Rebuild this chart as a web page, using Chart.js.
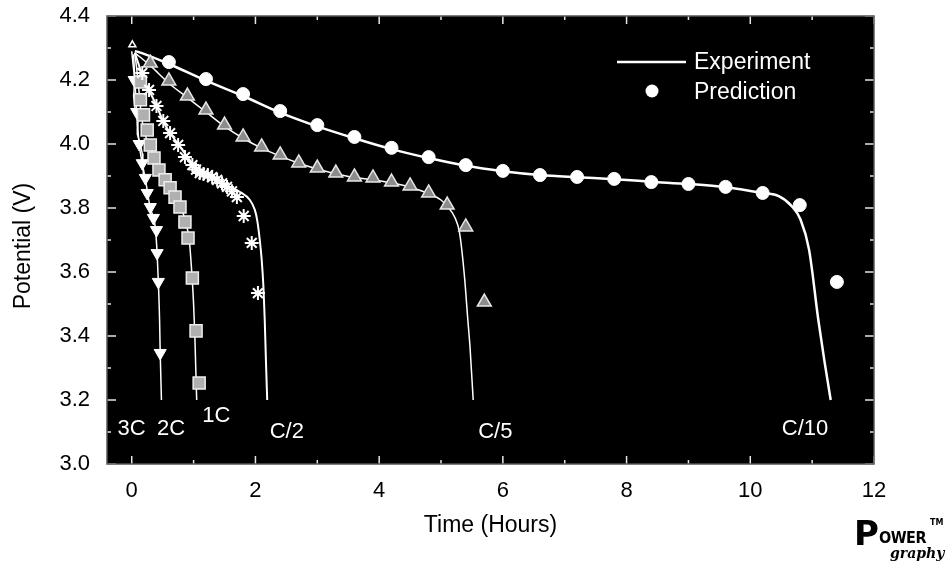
<!DOCTYPE html>
<html>
<head>
<meta charset="utf-8">
<script src="https://cdn.jsdelivr.net/npm/chart.js@4.4.1/dist/chart.umd.min.js"></script>
<style>
  html, body { margin: 0; padding: 0; background: #fff; }
  #wrap { position: relative; width: 952px; height: 565px; }
  #logo { position: absolute; left: 854px; top: 514px; width: 96px; height: 50px; font-family: "DejaVu Sans", sans-serif; color: #000; }
  #logo .p { position: absolute; left: 0; top: 0; font: bold 34px "DejaVu Sans"; line-height: 38px; }
  #logo .ower { position: absolute; left: 25px; top: 15px; font: bold 16px "DejaVu Sans Condensed", "DejaVu Sans"; line-height: 18px; letter-spacing: -0.5px; }
  #logo .tm { position: absolute; left: 76px; top: 4px; font: bold 8px "DejaVu Sans"; }
  #logo .graphy { position: absolute; left: 36px; top: 31px; font: italic bold 14px "DejaVu Serif"; line-height: 16px; }
</style>
</head>
<body>
<div id="wrap">
  <canvas id="myChart" width="952" height="565"></canvas>
  <div id="logo"><span class="p">P</span><span class="ower">OWER</span><span class="tm">TM</span><span class="graphy">graphy</span></div>
</div>
<script>
const FONT = "'Liberation Sans', Arial, sans-serif"

const timeTicks = [0, 2, 4, 6, 8, 10, 12]
const potentialTicks = [3.0, 3.2, 3.4, 3.6, 3.8, 4.0, 4.2, 4.4]

// C/10
const c10ExpTime = [0.05, 0.1, 0.6, 1.2, 1.8, 2.4, 3.0, 3.6, 4.2, 4.8, 5.4, 6.0, 6.6, 7.2, 7.8, 8.4, 9.0, 9.6, 10.2, 10.46, 10.67, 10.81, 10.95, 11.1, 11.2, 11.3]
const c10ExpV = [4.29, 4.288, 4.25, 4.198, 4.15, 4.098, 4.055, 4.018, 3.984, 3.956, 3.932, 3.915, 3.903, 3.896, 3.89, 3.882, 3.875, 3.865, 3.847, 3.837, 3.806, 3.765, 3.67, 3.45, 3.32, 3.2]
const c10PredTime = [0.6, 1.2, 1.8, 2.4, 3.0, 3.6, 4.2, 4.8, 5.4, 6.0, 6.6, 7.2, 7.8, 8.4, 9.0, 9.6, 10.2, 10.8, 11.4]
const c10PredV = [4.256, 4.203, 4.156, 4.103, 4.059, 4.022, 3.988, 3.959, 3.934, 3.916, 3.903, 3.897, 3.891, 3.881, 3.875, 3.866, 3.847, 3.809, 3.569]

// C/5
const c5ExpTime = [0.05, 0.3, 0.6, 0.9, 1.2, 1.5, 1.8, 2.1, 2.4, 2.7, 3.0, 3.3, 3.6, 3.9, 4.2, 4.5, 4.8, 5.0, 5.1, 5.22, 5.3, 5.38, 5.43, 5.47, 5.52]
const c5ExpV = [4.285, 4.245, 4.19, 4.145, 4.1, 4.055, 4.018, 3.987, 3.962, 3.94, 3.922, 3.907, 3.895, 3.888, 3.878, 3.865, 3.845, 3.825, 3.805, 3.772, 3.722, 3.584, 3.459, 3.362, 3.2]
const c5PredTime = [0.3, 0.6, 0.9, 1.2, 1.5, 1.8, 2.1, 2.4, 2.7, 3.0, 3.3, 3.6, 3.9, 4.2, 4.5, 4.8, 5.1, 5.4, 5.7]
const c5PredV = [4.253, 4.197, 4.15, 4.106, 4.059, 4.022, 3.991, 3.966, 3.941, 3.925, 3.909, 3.897, 3.894, 3.881, 3.869, 3.847, 3.809, 3.741, 3.506]

// C/2
const c2ExpTime = [0.05, 0.2, 0.3, 0.4, 0.5, 0.6, 0.75, 0.9, 1.0, 1.2, 1.4, 1.55, 1.75, 1.91, 1.99, 2.03, 2.07, 2.1, 2.13, 2.15, 2.17, 2.19]
const c2ExpV = [4.285, 4.2, 4.16, 4.12, 4.075, 4.04, 4.0, 3.96, 3.935, 3.905, 3.885, 3.868, 3.85, 3.825, 3.794, 3.76, 3.7, 3.64, 3.55, 3.45, 3.32, 3.2]
const c2PredTime = [0.17, 0.28, 0.4, 0.51, 0.62, 0.75, 0.86, 0.98, 1.04, 1.1, 1.16, 1.23, 1.3, 1.38, 1.46, 1.54, 1.62, 1.7, 1.81, 1.94, 2.04]
const c2PredV = [4.222, 4.169, 4.119, 4.072, 4.034, 3.997, 3.959, 3.934, 3.92, 3.909, 3.906, 3.903, 3.896, 3.888, 3.877, 3.866, 3.852, 3.834, 3.775, 3.691, 3.534]

// 1C
const r1ExpTime = [0.05, 0.1, 0.15, 0.2, 0.3, 0.4, 0.5, 0.6, 0.7, 0.8, 0.88, 0.93, 0.97, 1.0, 1.02, 1.035, 1.05]
const r1ExpV = [4.285, 4.2, 4.1, 4.04, 3.99, 3.94, 3.9, 3.87, 3.84, 3.8, 3.75, 3.7, 3.6, 3.5, 3.4, 3.3, 3.2]
const r1PredTime = [0.14, 0.14, 0.19, 0.25, 0.3, 0.36, 0.44, 0.54, 0.62, 0.7, 0.78, 0.86, 0.91, 0.98, 1.04, 1.09]
const r1PredV = [4.194, 4.138, 4.091, 4.044, 3.997, 3.956, 3.919, 3.888, 3.863, 3.834, 3.803, 3.756, 3.706, 3.581, 3.416, 3.253]

// 2C
const r2ExpTime = [0.03, 0.05, 0.08, 0.12, 0.17, 0.22, 0.3, 0.35, 0.38, 0.41, 0.43, 0.45, 0.46, 0.48]
const r2ExpV = [4.28, 4.2, 4.1, 4.0, 3.94, 3.89, 3.8, 3.77, 3.74, 3.66, 3.57, 3.45, 3.35, 3.2]
const r2PredTime = [0.04, 0.08, 0.12, 0.17, 0.22, 0.25, 0.3, 0.35, 0.4, 0.41, 0.43, 0.46]
const r2PredV = [4.2, 4.1, 4.0, 3.94, 3.894, 3.847, 3.803, 3.769, 3.731, 3.659, 3.569, 3.347]

// 3C
const r3ExpTime = [0.0, 0.02, 0.05, 0.03, 0.06, 0.1, 0.09, 0.14, 0.17, 0.18, 0.19]
const r3ExpV = [4.29, 4.25, 4.2, 4.15, 4.1, 4.07, 4.03, 4.0, 3.97, 3.93, 3.9]
const r3PredTime = [0.01]
const r3PredV = [4.31]

const rateLabels = ['3C', '2C', '1C', 'C/2', 'C/5', 'C/10']
const rateLabelTime = [-0.23, 0.41, 1.14, 2.23, 5.6, 10.51]
const rateLabelV = [3.11, 3.11, 3.15, 3.1, 3.1, 3.11]

function pts(xs, ys) {
  return xs.map((x, i) => ({x: x, y: ys[i]}))
}

function expLine(label, xs, ys, width) {
  return {
    label: label, data: pts(xs, ys), showLine: true, borderColor: '#fff', borderWidth: width,
    pointRadius: 0, cubicInterpolationMode: 'monotone', order: 2
  }
}

function predMarks(label, xs, ys, style) {
  return Object.assign({label: label, data: pts(xs, ys), showLine: false, order: 1}, style)
}

const decor = {
  id: 'decor',
  beforeDraw(chart) {
    const ctx = chart.ctx
    const a = chart.chartArea
    ctx.save()
    ctx.fillStyle = '#fff'
    ctx.fillRect(0, 0, chart.width, chart.height)
    ctx.fillStyle = '#000'
    ctx.fillRect(a.left, a.top, a.right - a.left, a.bottom - a.top)
    ctx.restore()
  },
  afterDatasetsDraw(chart) {
    const ctx = chart.ctx
    const a = chart.chartArea
    const xs = chart.scales.x
    const ys = chart.scales.y
    ctx.save()
    // inward ticks
    ctx.strokeStyle = '#e6e6e6'
    ctx.lineWidth = 1.5
    ctx.beginPath()
    for (let t = 0; t <= 12; t++) {
      const px = xs.getPixelForValue(t)
      const len = t % 2 == 0 ? 8 : 4
      ctx.moveTo(px, a.bottom); ctx.lineTo(px, a.bottom - len)
      ctx.moveTo(px, a.top); ctx.lineTo(px, a.top + len)
    }
    for (let k = 0; k <= 14; k++) {
      const py = ys.getPixelForValue(3 + k * 0.1)
      const len = k % 2 == 0 ? 9 : 4
      ctx.moveTo(a.left, py); ctx.lineTo(a.left + len, py)
      ctx.moveTo(a.right, py); ctx.lineTo(a.right - len, py)
    }
    ctx.stroke()
    // frame
    ctx.strokeStyle = '#555'
    ctx.lineWidth = 1.5
    ctx.strokeRect(a.left, a.top, a.right - a.left, a.bottom - a.top)

    // rate labels
    ctx.fillStyle = '#fff'
    ctx.font = '22px ' + FONT
    ctx.textAlign = 'left'
    ctx.textBaseline = 'middle'
    for (let i = 0; i < rateLabels.length; i++) {
      ctx.fillText(rateLabels[i], xs.getPixelForValue(rateLabelTime[i]), ys.getPixelForValue(rateLabelV[i]))
    }

    // legend
    ctx.font = '23px ' + FONT
    ctx.strokeStyle = '#fff'
    ctx.lineWidth = 2.5
    ctx.beginPath()
    ctx.moveTo(617, 62); ctx.lineTo(686, 62)
    ctx.stroke()
    ctx.beginPath()
    ctx.arc(652, 91, 6.5, 0, Math.PI * 2)
    ctx.fill()
    ctx.fillText('Experiment', 694, 63)
    ctx.fillText('Prediction', 694, 93)

    // axis titles
    ctx.fillStyle = '#000'
    ctx.font = '23px ' + FONT
    ctx.textAlign = 'center'
    ctx.fillText('Time (Hours)', (a.left + a.right) / 2 + 0, 526)
    ctx.translate(24, 246)
    ctx.rotate(-Math.PI / 2)
    ctx.fillText('Potential (V)', 0, 0)
    ctx.restore()
  }
}

const white = '#fff'
const ctx = document.getElementById('myChart')
new Chart(ctx, {
  type: 'scatter',
  data: {
    datasets: [
      expLine('C/10 Experiment', c10ExpTime, c10ExpV, 2.5),
      expLine('C/5 Experiment', c5ExpTime, c5ExpV, 1.5),
      expLine('C/2 Experiment', c2ExpTime, c2ExpV, 2),
      expLine('1C Experiment', r1ExpTime, r1ExpV, 1.5),
      expLine('2C Experiment', r2ExpTime, r2ExpV, 1.5),
      {label: '3C Experiment', data: pts(r3ExpTime, r3ExpV), showLine: true, borderColor: white, borderWidth: 1.5, pointRadius: 0, tension: 0, order: 2},
      predMarks('C/10 Prediction', c10PredTime, c10PredV, {pointStyle: 'circle', pointRadius: 6.5, pointBackgroundColor: white, pointBorderColor: white, pointBorderWidth: 1}),
      predMarks('C/5 Prediction', c5PredTime, c5PredV, {pointStyle: 'triangle', pointRadius: 8, pointBackgroundColor: '#8c8c8c', pointBorderColor: '#e6e6e6', pointBorderWidth: 1.5}),
      predMarks('C/2 Prediction', c2PredTime, c2PredV, {pointStyle: 'star', pointRadius: 7, pointBackgroundColor: white, pointBorderColor: white, pointBorderWidth: 2}),
      predMarks('1C Prediction', r1PredTime, r1PredV, {pointStyle: 'rect', pointRadius: 8.5, pointBackgroundColor: '#b0b0b0', pointBorderColor: '#eeeeee', pointBorderWidth: 1.5}),
      predMarks('2C Prediction', r2PredTime, r2PredV, {pointStyle: 'triangle', rotation: 180, pointRotation: 180, pointRadius: 7, pointBackgroundColor: white, pointBorderColor: white, pointBorderWidth: 1}),
      predMarks('3C Prediction', r3PredTime, r3PredV, {pointStyle: 'triangle', pointRadius: 4, pointBackgroundColor: 'rgba(0,0,0,0)', pointBorderColor: white, pointBorderWidth: 1.5})
    ]
  },
  options: {
    responsive: false,
    animation: false,
    layout: {padding: {top: 16, right: 78, left: 0, bottom: 0}},
    plugins: {legend: {display: false}, tooltip: {enabled: false}},
    scales: {
      x: {
        type: 'linear', min: -0.4, max: 12,
        afterBuildTicks: (s) => { s.ticks = timeTicks.map(v => ({value: v})) },
        afterFit: (s) => { s.height = 101; s.paddingLeft = 0; s.paddingRight = 0 },
        grid: {display: false, drawTicks: false},
        border: {display: false},
        ticks: {color: '#000', font: {size: 22, family: FONT}, padding: 14}
      },
      y: {
        type: 'linear', min: 3.0, max: 4.4,
        afterBuildTicks: (s) => { s.ticks = potentialTicks.map(v => ({value: v})) },
        afterFit: (s) => { s.width = 107; s.paddingTop = 0; s.paddingBottom = 0 },
        grid: {display: false, drawTicks: false},
        border: {display: false},
        ticks: {color: '#000', font: {size: 22, family: FONT}, padding: 17, callback: (v) => v.toFixed(1)}
      }
    }
  },
  plugins: [decor]
})
</script>
</body>
</html>
